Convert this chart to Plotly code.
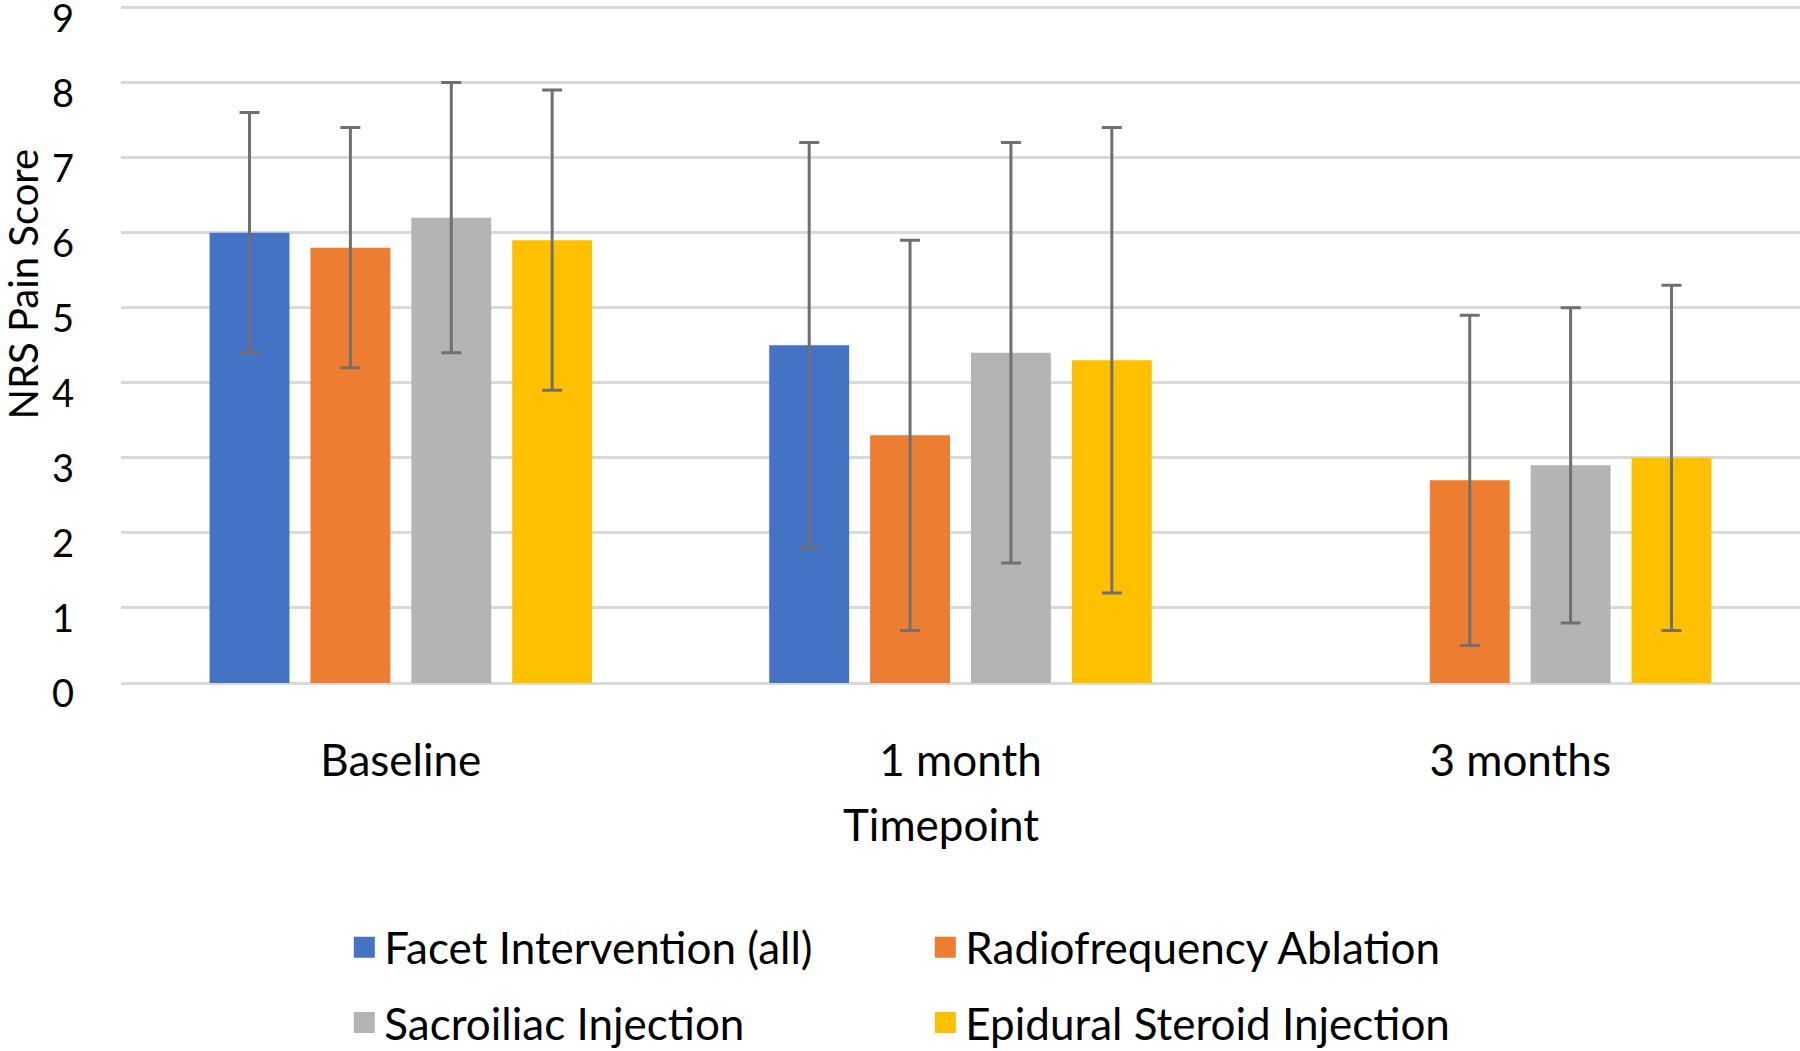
import plotly.graph_objects as go

categories = ["Baseline", "1 month", "3 months"]
series_names = ["Facet Intervention (all)", "Radiofrequency Ablation",
                "Sacroiliac Injection", "Epidural Steroid Injection"]
facet = [6.0, 4.5, None]
facet_sd = [1.6, 2.7, None]
rfa = [5.8, 3.3, 2.7]
rfa_sd = [1.6, 2.6, 2.2]
si = [6.2, 4.4, 2.9]
si_sd = [1.8, 2.8, 2.1]
esi = [5.9, 4.3, 3.0]
esi_sd = [2.0, 3.1, 2.3]
colors = ["#4472C4", "#ED7D31", "#B4B4B4", "#FFC000"]
y_ticks = list(range(0, 10))

FONT = "Lato"
FS = 44
values = [facet, rfa, si, esi]
sds = [facet_sd, rfa_sd, si_sd, esi_sd]
legend_ids = ["legend", "legend", "legend2", "legend2"]

fig = go.Figure()
for name, v, sd, c in zip(series_names, values, sds, colors):
    fig.add_trace(go.Bar(
        x=categories, y=v, name=name, marker=dict(color=c, line=dict(width=0)),
        error_y=dict(type="data", array=sd, visible=True, color="#707070",
                     thickness=3, width=10),
        showlegend=False,
    ))
for name, c, lg in zip(series_names, colors, legend_ids):
    fig.add_trace(go.Scatter(
        x=[None], y=[None], mode="markers", name=name, legend=lg,
        marker=dict(symbol="square", size=16, color=c, line=dict(color=c, width=5)),
    ))

legend_common = dict(orientation="h", xanchor="left", yanchor="middle",
                     font=dict(family=FONT, size=FS, color="black"),
                     entrywidth=536, itemwidth=30, bgcolor="rgba(0,0,0,0)")
fig.update_layout(
    width=1800, height=1051,
    paper_bgcolor="white", plot_bgcolor="white",
    margin=dict(l=121, r=0, t=6, b=368, autoexpand=False),
    barmode="group", bargap=0.279, bargroupgap=0.208,
    font=dict(family=FONT, size=FS, color="black"),
    legend=dict(x=0.133, y=-0.391, **legend_common),
    legend2=dict(x=0.133, y=-0.502, **legend_common),
    xaxis=dict(
        showgrid=False, showline=False, zeroline=False, automargin=False,
        tickfont=dict(family=FONT, size=FS), ticklabelstandoff=48,
    ),
    yaxis=dict(
        range=[0, 9.02], tickvals=y_ticks, showgrid=True, gridcolor="#D9D9D9",
        gridwidth=2.5, zeroline=True, zerolinecolor="#D9D9D9", zerolinewidth=2.5,
        showline=False, automargin=False, ticklabeloverflow="allow",
        tickfont=dict(family=FONT, size=38), ticklabelstandoff=46, ticklabelshift=11,
    ),
    annotations=[
        dict(text="NRS Pain Score", textangle=-90, xref="paper", yref="paper",
             x=-0.0585, y=0.5896, xanchor="center", yanchor="middle", showarrow=False,
             font=dict(family=FONT, size=40, color="black")),
        dict(text="Timepoint", xref="paper", yref="paper",
             x=0.4884, y=-0.2089, xanchor="center", yanchor="middle", showarrow=False,
             font=dict(family=FONT, size=FS, color="black")),
    ],
)
fig.write_html("out.html", config={"displayModeBar": False},
               post_script="document.body.style.margin='0';document.body.style.overflow='hidden';")
